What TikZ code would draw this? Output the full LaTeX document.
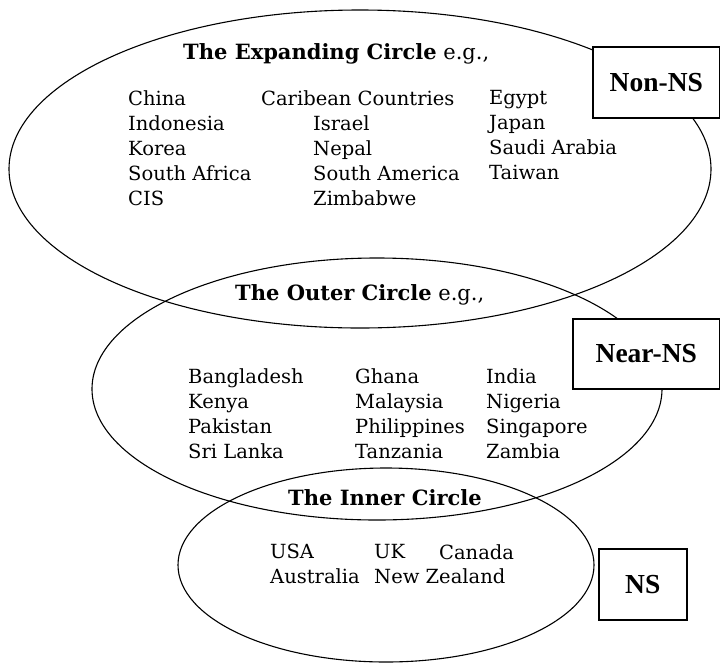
\documentclass[tikz,border=0pt]{standalone}
\usepackage{fontspec}
\setmainfont{DejaVu Serif}
\newfontfamily\boxfont{Liberation Serif}

\begin{document}
\begin{tikzpicture}[x=1pt, y=-1pt,
    ring/.style={line width=1.1pt},
    countries/.style={anchor=north west, inner sep=0pt, align=left, font=\fontsize{19.5}{25}\selectfont},
    heading/.style={anchor=base west, inner sep=0pt, font=\fontsize{21}{25}\selectfont},
    nsbox/.style={draw, line width=1.6pt, fill=white, anchor=north west, font=\boxfont\bfseries\fontsize{27.5}{30}\selectfont}]
                % Frame
                \useasboundingbox (0,0) rectangle (720,662);

                % The three circles
                \draw[ring] (360,169) ellipse [x radius=351, y radius=159];
                \draw[ring] (377,389) ellipse [x radius=285, y radius=131];
                \draw[ring] (386,565) ellipse [x radius=208, y radius=97];

                % The expanding circle
                \node[heading] (exphead) at (183,59) {\textbf{The Expanding Circle} e.g.,};
                \node[countries] (exp1) at (128,90) {China\\Indonesia\\Korea\\South Africa\\CIS};
                \node[countries] (exp2) at (261,90) {Caribean Countries};
                \node[countries] (exp3) at (313,115) {Israel\\Nepal\\South America\\Zimbabwe};
                \node[countries] (exp4) at (489,90) {Egypt\\Japan\\Saudi Arabia\\Taiwan};

                % The outer circle
                \node[heading] (outhead) at (235,300) {\textbf{The Outer Circle} e.g.,};
                \node[countries] (out1) at (188,368) {Bangladesh\\Kenya\\Pakistan\\Sri Lanka};
                \node[countries] (out2) at (355,368) {Ghana\\Malaysia\\Philippines\\Tanzania};
                \node[countries] (out3) at (486,368) {India\\Nigeria\\Singapore\\Zambia};

                % The inner circle
                \node[heading] (innhead) at (288,505) {\textbf{The Inner Circle}};
                \node[countries] (inn1) at (270,544) {USA\\Australia};
                \node[countries] (inn2) at (374,544) {UK\\New Zealand};
                \node[countries] (inn3) at (439,544) {Canada};

                % Labels for the speakers (boxes at the right)
                \node[nsbox, minimum width=127pt, minimum height=71pt] (nonns) at (592,46) {Non-NS};
                \node[nsbox, minimum width=147pt, minimum height=70pt] (nearns) at (572,318) {Near-NS};
                \node[nsbox, minimum width=88pt, minimum height=71pt] (ns) at (598,548) {NS};

            \end{tikzpicture}
\end{document}
